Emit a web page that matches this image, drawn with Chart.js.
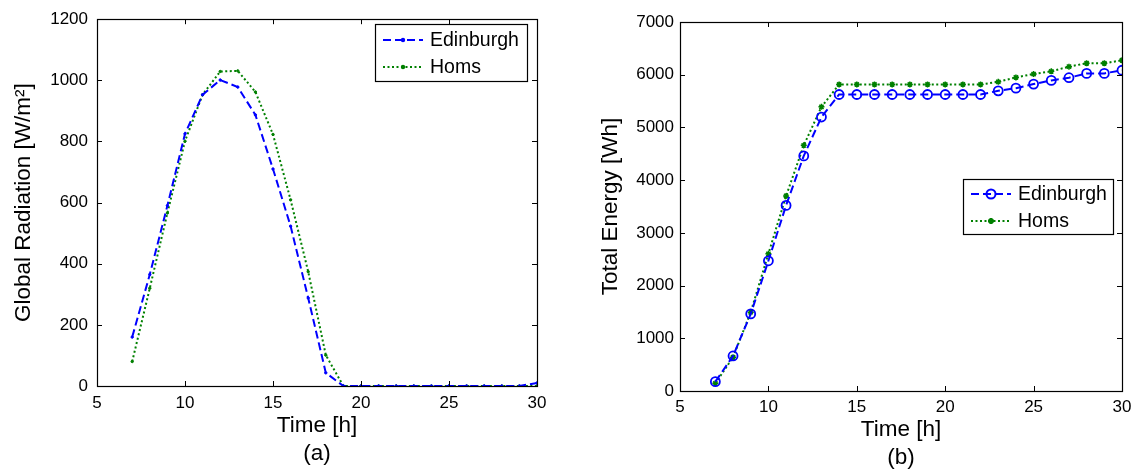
<!DOCTYPE html>
<html>
<head>
<meta charset="utf-8">
<title>Global radiation and total energy</title>
<script src="https://cdn.jsdelivr.net/npm/chart.js@4.4.1/dist/chart.umd.min.js"></script>
<style>
  body { margin: 0; background: #fff; width: 1140px; height: 472px; overflow: hidden; position: relative; }
  .panel { position: absolute; top: 0; width: 570px; height: 472px; }
</style>
</head>
<body>
<div class="panel" style="left:0"><canvas id="radChart" width="570" height="472"></canvas></div>
<div class="panel" style="left:570px"><canvas id="energyChart" width="570" height="472"></canvas></div>
<script>
// hours of the day (continues past 24)
const hours = [7, 8, 9, 10, 11, 12, 13, 14, 15, 16, 17, 18, 19, 20, 21, 22, 23, 24, 25, 26, 27, 28, 29, 30];

// (a) global radiation [W/m2]
const radEdinburgh = [160, 365, 590, 825, 953, 1001, 978, 887, 710, 523, 288, 43, 0, 0, 0, 0, 0, 0, 0, 0, 0, 0, 0, 10];
const radHoms = [80, 320, 566, 801, 953, 1029, 1031, 962, 823, 609, 374, 101, 0, 0, 0, 0, 0, 0, 0, 0, 0, 0, 0, 0];

// (b) total energy [Wh]
const energyEdinburgh = [177, 665, 1463, 2470, 3521, 4460, 5197, 5625, 5625, 5625, 5625, 5625, 5625, 5625, 5625, 5625, 5694, 5745, 5822, 5892, 5943, 6025, 6025, 6085];
const energyHoms = [146, 640, 1495, 2603, 3700, 4660, 5390, 5815, 5815, 5815, 5815, 5815, 5815, 5815, 5815, 5815, 5866, 5949, 6013, 6064, 6153, 6217, 6217, 6274];

const xTicks = [5, 10, 15, 20, 25, 30];

const FONT = "'Liberation Sans', Arial, Helvetica, sans-serif";
const BLUE = "#0000ff";
const GREEN = "#008000";

function toPoints(xs, ys) {
  return xs.map((x, i) => ({ x: x, y: ys[i] }));
}

// box with inward ticks on all four sides, like matlab
const matlabFrame = {
  id: "matlabFrame",
  afterDraw(chart) {
    const { ctx, chartArea: a, scales } = chart;
    const x = scales.x, y = scales.y;
    const len = 5;
    ctx.save();
    ctx.strokeStyle = "#000";
    ctx.lineWidth = 1;
    ctx.beginPath();
    x.ticks.forEach(t => {
      const px = Math.round(x.getPixelForValue(t.value)) + 0.5;
      ctx.moveTo(px, a.bottom); ctx.lineTo(px, a.bottom - len);
      ctx.moveTo(px, a.top); ctx.lineTo(px, a.top + len);
    });
    y.ticks.forEach(t => {
      const py = Math.round(y.getPixelForValue(t.value)) + 0.5;
      ctx.moveTo(a.left, py); ctx.lineTo(a.left + len, py);
      ctx.moveTo(a.right, py); ctx.lineTo(a.right - len, py);
    });
    ctx.stroke();
    ctx.lineWidth = 1.2;
    ctx.strokeRect(Math.round(a.left) + 0.5, Math.round(a.top) + 0.5, Math.round(a.width), Math.round(a.height));
    ctx.restore();
  }
};

// legend box placed inside the plot
const boxLegend = {
  id: "boxLegend",
  afterDraw(chart, args, opts) {
    const ctx = chart.ctx;
    ctx.save();
    ctx.fillStyle = "#fff";
    ctx.fillRect(opts.left, opts.top, opts.width, opts.height);
    ctx.strokeStyle = "#000";
    ctx.lineWidth = 1.2;
    ctx.strokeRect(opts.left + 0.5, opts.top + 0.5, opts.width, opts.height);
    chart.data.datasets.forEach((ds, i) => {
      const yy = opts.top + opts.rowTop + i * opts.rowGap;
      const x0 = opts.left + 8, x1 = opts.left + 48;
      ctx.strokeStyle = ds.borderColor;
      ctx.lineWidth = ds.borderWidth;
      ctx.setLineDash(ds.borderDash || []);
      ctx.beginPath();
      ctx.moveTo(x0, yy); ctx.lineTo(x1, yy);
      ctx.stroke();
      ctx.setLineDash([]);
      if (ds.pointRadius > 0) {
        ctx.fillStyle = ds.pointBackgroundColor;
        ctx.strokeStyle = ds.pointBorderColor;
        Chart.helpers.drawPoint(ctx, {
          pointStyle: ds.pointStyle,
          radius: ds.pointRadius,
          borderWidth: ds.pointBorderWidth,
          rotation: 0
        }, (x0 + x1) / 2, yy);
      }
      ctx.fillStyle = "#000";
      ctx.font = "19.5px " + FONT;
      ctx.textBaseline = "middle";
      ctx.fillText(ds.label, opts.left + 55, yy + 1);
    });
    ctx.restore();
  }
};

function makeOptions(cfg) {
  return {
    responsive: false,
    animation: false,
    layout: { padding: { left: 0, top: cfg.top, right: cfg.right, bottom: 0 } },
    plugins: {
      legend: { display: false },
      tooltip: { enabled: false },
      boxLegend: cfg.legend
    },
    scales: {
      x: {
        type: "linear",
        min: 5,
        max: 30,
        afterBuildTicks: s => { s.ticks = xTicks.map(v => ({ value: v })); },
        afterFit: s => { s.height = cfg.xHeight; },
        grid: { display: false, drawTicks: false },
        border: { display: false },
        ticks: { color: "#000", padding: cfg.xPad, font: { family: FONT, size: 17 }, callback: v => String(v) },
        title: {
          display: true,
          text: ["Time [h]", cfg.tag],
          color: "#000",
          padding: { top: 0, bottom: cfg.titlePad },
          font: { family: FONT, size: 22.5, lineHeight: 1.25 }
        }
      },
      y: {
        min: 0,
        max: cfg.yMax,
        afterFit: s => { s.width = cfg.yWidth; },
        grid: { display: false, drawTicks: false },
        border: { display: false },
        ticks: { color: "#000", stepSize: cfg.yStep, padding: cfg.yPad, font: { family: FONT, size: 17 }, callback: v => String(v) },
        title: {
          display: true,
          text: cfg.yTitle,
          color: "#000",
          padding: { top: cfg.yTitlePad, bottom: 0 },
          font: { family: FONT, size: 22.5 }
        }
      }
    }
  };
}

new Chart(document.getElementById("radChart"), {
  type: "line",
  data: {
    datasets: [
      {
        label: "Edinburgh",
        data: toPoints(hours, radEdinburgh),
        borderColor: BLUE,
        borderWidth: 2,
        borderDash: [8, 4],
        pointStyle: "circle",
        pointRadius: 1.2,
        pointBorderWidth: 1,
        pointBackgroundColor: BLUE,
        pointBorderColor: BLUE,
        tension: 0
      },
      {
        label: "Homs",
        data: toPoints(hours, radHoms),
        borderColor: GREEN,
        borderWidth: 2,
        borderDash: [2, 2.5],
        pointStyle: "circle",
        pointRadius: 1.2,
        pointBorderWidth: 1,
        pointBackgroundColor: GREEN,
        pointBorderColor: GREEN,
        tension: 0
      }
    ]
  },
  options: makeOptions({
    top: 15, right: 33, xHeight: 86, xPad: 7, titlePad: 4, tag: "(a)",
    yMax: 1200, yStep: 200, yWidth: 97, yPad: 9, yTitlePad: 10,
    yTitle: "Global Radiation [W/m²]",
    legend: { left: 375, top: 24, width: 152, height: 57, rowTop: 16, rowGap: 27 }
  }),
  plugins: [matlabFrame, boxLegend]
});

new Chart(document.getElementById("energyChart"), {
  type: "line",
  data: {
    datasets: [
      {
        label: "Edinburgh",
        data: toPoints(hours, energyEdinburgh),
        borderColor: BLUE,
        borderWidth: 2,
        borderDash: [8, 4],
        pointStyle: "circle",
        pointRadius: 4.5,
        pointBorderWidth: 1.8,
        pointBackgroundColor: "rgba(0,0,0,0)",
        pointBorderColor: BLUE,
        tension: 0
      },
      {
        label: "Homs",
        data: toPoints(hours, energyHoms),
        borderColor: GREEN,
        borderWidth: 2,
        borderDash: [2, 2.5],
        pointStyle: "star",
        pointRadius: 3,
        pointBorderWidth: 1.5,
        pointBackgroundColor: GREEN,
        pointBorderColor: GREEN,
        tension: 0
      }
    ]
  },
  options: makeOptions({
    top: 22, right: 18, xHeight: 81, xPad: 6, titlePad: 0, tag: "(b)",
    yMax: 7000, yStep: 1000, yWidth: 110, yPad: 6, yTitlePad: 27,
    yTitle: "Total Energy [Wh]",
    legend: { left: 393, top: 179, width: 150, height: 55, rowTop: 15, rowGap: 27 }
  }),
  plugins: [matlabFrame, boxLegend]
});
</script>
</body>
</html>
